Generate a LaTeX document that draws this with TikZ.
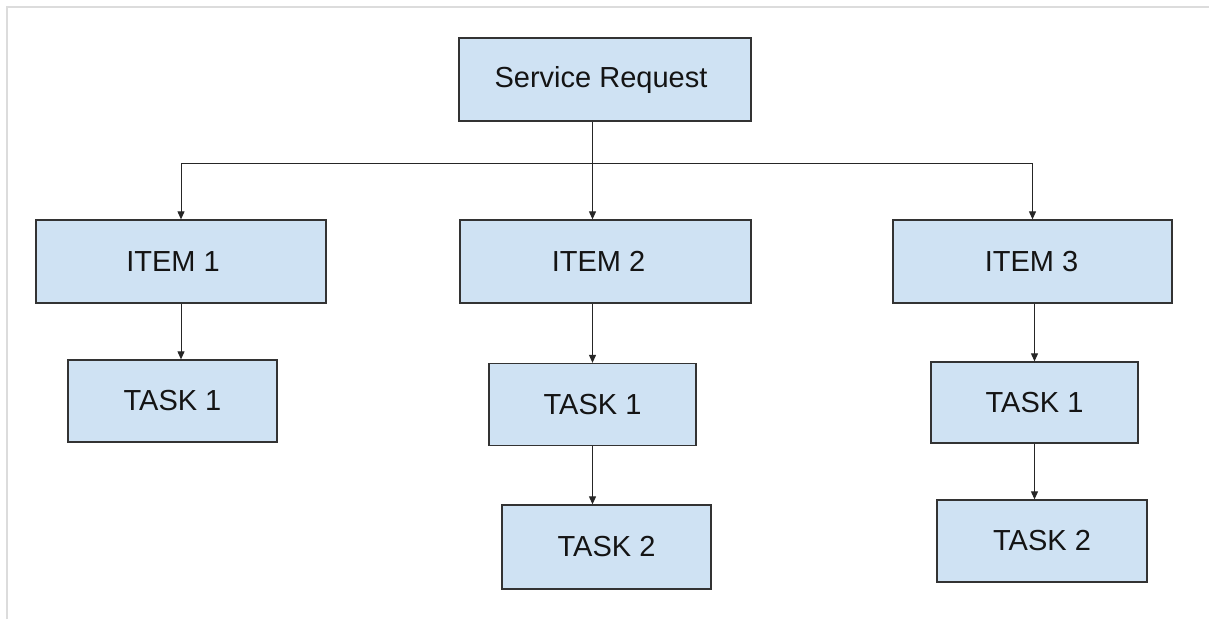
\documentclass[tikz,border=0pt]{standalone}
\usepackage{fontspec}
\setmainfont{Liberation Sans}
\usetikzlibrary{arrows.meta}
\definecolor{boxfill}{HTML}{CFE2F3}
\definecolor{boxline}{HTML}{333333}
\definecolor{framegray}{HTML}{DCDCDC}
\newcommand{\txtoff}[2]{#2\hspace*{#1}}
\begin{document}
\begin{tikzpicture}[x=1pt,y=-1pt,
  box/.style={draw=boxline,fill=boxfill,line width=1.3pt,inner sep=0pt,
    font=\fontsize{29}{35}\selectfont,text=black!92},
  arr/.style={draw=black!85,line width=1pt,-{Triangle[length=8pt,width=7pt]}},
  plain/.style={draw=black!85,line width=1pt}]
\useasboundingbox (0,0) rectangle (1209,619);
\draw[framegray,line width=2pt] (7,619) -- (7,7) -- (1209,7);

\node[box,minimum width=292pt,minimum height=83pt] (sr) at (605,79.5) {\txtoff{8pt}{Service Request}};
\node[box,minimum width=290pt,minimum height=83pt] (i1) at (181,261.5) {\txtoff{16pt}{ITEM 1}};
\node[box,minimum width=291pt,minimum height=83pt] (i2) at (605.5,261.5) {\txtoff{14pt}{ITEM 2}};
\node[box,minimum width=279pt,minimum height=83pt] (i3) at (1032.5,261.5) {\txtoff{2pt}{ITEM 3}};
\node[box,minimum width=209pt,minimum height=82pt] (t11) at (172.5,401) {TASK 1};
\node[box,minimum width=207pt,minimum height=82pt] (t21) at (592.5,404.5) {TASK 1};
\node[box,minimum width=209pt,minimum height=84pt] (t22) at (606.5,547) {TASK 2};
\node[box,minimum width=207pt,minimum height=81pt] (t31) at (1034.5,402.5) {TASK 1};
\node[box,minimum width=210pt,minimum height=82pt] (t32) at (1042,541) {TASK 2};

\coordinate (bar) at (600,163.5);
\draw[plain] (i1.north |- bar) -- (i3.north |- bar);
\draw[arr] (i1.north |- bar) -- (i1.north);
\draw[arr] (i3.north |- bar) -- (i3.north);
\draw[arr] (sr.south -| t21.north) -- (i2.north -| t21.north);

\draw[arr] (i1.south) -- (i1.south |- t11.north);
\draw[arr] (i2.south -| t21.north) -- (t21.north);
\draw[arr] (t21.south) -- (t21.south |- t22.north);
\draw[arr] (i3.south -| t31.north) -- (t31.north);
\draw[arr] (t31.south) -- (t31.south |- t32.north);
\end{tikzpicture}
\end{document}
